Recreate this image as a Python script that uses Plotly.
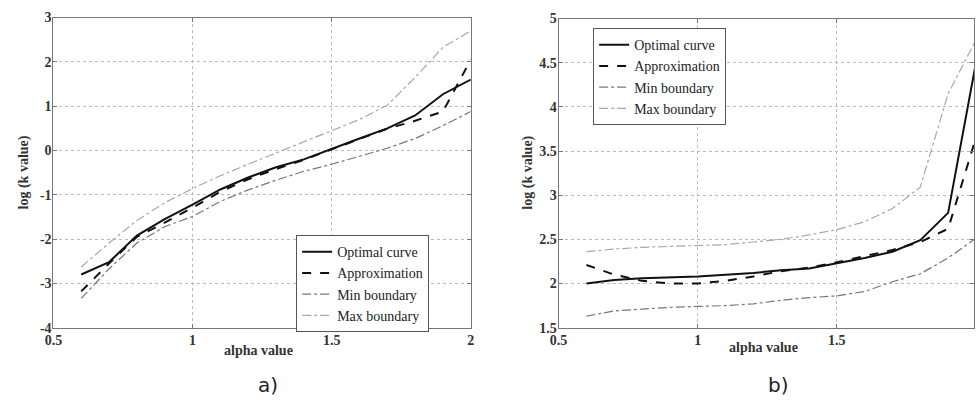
import plotly.graph_objects as go

alpha = [0.6, 0.7, 0.8, 0.9, 1.0, 1.1, 1.2, 1.3, 1.4, 1.5, 1.6, 1.7, 1.8, 1.9, 2.0]

# Panel a)
a_optimal = [-2.80, -2.52, -1.92, -1.55, -1.22, -0.88, -0.61, -0.38, -0.20, 0.04, 0.27, 0.50, 0.79, 1.27, 1.60]
a_approx = [-3.18, -2.55, -1.95, -1.63, -1.29, -0.93, -0.65, -0.42, -0.21, 0.03, 0.26, 0.49, 0.67, 0.88, 2.05]
a_min = [-3.34, -2.67, -2.09, -1.72, -1.49, -1.15, -0.89, -0.67, -0.47, -0.31, -0.13, 0.05, 0.27, 0.56, 0.88]
a_max = [-2.63, -2.09, -1.58, -1.18, -0.86, -0.57, -0.31, -0.06, 0.19, 0.44, 0.70, 1.02, 1.65, 2.33, 2.70]

# Panel b)
b_optimal = [2.00, 2.04, 2.06, 2.07, 2.08, 2.10, 2.12, 2.15, 2.17, 2.23, 2.29, 2.36, 2.49, 2.80, 4.50]
b_approx = [2.21, 2.10, 2.03, 2.00, 2.00, 2.03, 2.08, 2.14, 2.18, 2.24, 2.31, 2.38, 2.47, 2.62, 3.65]
b_min = [1.63, 1.69, 1.71, 1.73, 1.74, 1.75, 1.77, 1.81, 1.84, 1.86, 1.91, 2.02, 2.11, 2.29, 2.51]
b_max = [2.36, 2.39, 2.41, 2.42, 2.43, 2.44, 2.47, 2.50, 2.55, 2.61, 2.70, 2.85, 3.09, 4.15, 4.76]

# Tick labels
x_ticks = [0.5, 1.0, 1.5, 2.0]
x_ticklabels = ["0.5", "1", "1.5", "2"]
a_yticks = [-4, -3, -2, -1, 0, 1, 2, 3]
a_yticklabels = ["-4", "-3", "-2", "-1", "0", "1", "2", "3"]
b_yticks = [1.5, 2, 2.5, 3, 3.5, 4, 4.5, 5]
b_yticklabels = ["1.5", "2", "2.5", "3", "3.5", "4", "4.5", "5"]

names = ["Optimal curve", "Approximation", "Min boundary", "Max boundary"]
styles = [
    dict(color="#111111", width=2, dash="solid"),
    dict(color="#111111", width=2, dash="dash"),
    dict(color="#777777", width=1.2, dash="dashdot"),
    dict(color="#a8a8a8", width=1.2, dash="dashdot"),
]

fig = go.Figure()
for ys, nm, st in zip([a_optimal, a_approx, a_min, a_max], names, styles):
    fig.add_trace(go.Scatter(x=alpha, y=ys, mode="lines", name=nm, line=st,
                             xaxis="x", yaxis="y", legend="legend"))
for ys, nm, st in zip([b_optimal, b_approx, b_min, b_max], names, styles):
    fig.add_trace(go.Scatter(x=alpha, y=ys, mode="lines", name=nm, line=st,
                             xaxis="x2", yaxis="y2", legend="legend2"))

SERIF = "Liberation Serif"
tickfont = dict(family=SERIF, size=14, color="#333333", weight="bold")
axis_common = dict(showline=True, linecolor="#777777", linewidth=1, mirror="allticks",
                   ticks="inside", ticklen=4, tickcolor="#777777",
                   showgrid=True, gridcolor="#bbbbbb", griddash="dot", gridwidth=1,
                   zeroline=False, tickfont=tickfont, tickmode="array")

W, H = 978, 405
legend_font = dict(family=SERIF, size=14, color="#222222")
title_font = dict(family=SERIF, size=14, color="#333333", weight="bold")
fig.update_layout(
    width=W, height=H, margin=dict(l=0, r=0, t=0, b=0),
    paper_bgcolor="white", plot_bgcolor="white",
    xaxis=dict(domain=[45 / W, 468 / W], range=[0.5, 2], anchor="y",
               tickvals=x_ticks, ticktext=x_ticklabels, **axis_common),
    yaxis=dict(domain=[(H - 333) / H, (H - 11) / H], range=[-4, 3], anchor="x",
               tickvals=a_yticks, ticktext=a_yticklabels, ticklabelstandoff=-2, **axis_common),
    xaxis2=dict(domain=[557 / W, 1.0], range=[0.5, 1.993], anchor="y2",
                tickvals=x_ticks, ticktext=x_ticklabels, **axis_common),
    yaxis2=dict(domain=[(H - 333) / H, (H - 12) / H], range=[1.5, 5], anchor="x2",
                tickvals=b_yticks, ticktext=b_yticklabels, ticklabelstandoff=-2, **axis_common),
    legend=dict(x=291 / W, y=(H - 237) / H, xanchor="left", yanchor="top",
                bgcolor="white", bordercolor="#555555", borderwidth=1,
                font=legend_font, tracegroupgap=0, itemwidth=30),
    legend2=dict(x=592 / W, y=(H - 22) / H, xanchor="left", yanchor="top",
                 bgcolor="white", bordercolor="#555555", borderwidth=1,
                 font=legend_font, tracegroupgap=0, itemwidth=30),
    annotations=[
        dict(text="alpha value", x=253 / W, y=(H - 357) / H, xref="paper", yref="paper",
             xanchor="center", yanchor="middle", showarrow=False, font=title_font),
        dict(text="log (k value)", x=15 / W, y=(H - 172) / H, xref="paper", yref="paper",
             xanchor="center", yanchor="middle", showarrow=False, textangle=-90, font=title_font),
        dict(text="alpha value", x=765 / W, y=(H - 354) / H, xref="paper", yref="paper",
             xanchor="center", yanchor="middle", showarrow=False, font=title_font),
        dict(text="log (k value)", x=526 / W, y=(H - 172) / H, xref="paper", yref="paper",
             xanchor="center", yanchor="middle", showarrow=False, textangle=-90, font=title_font),
        dict(text="a)", x=262 / W, y=(H - 393) / H, xref="paper", yref="paper",
             xanchor="center", yanchor="middle", showarrow=False,
             font=dict(family="DejaVu Sans", size=20, color="#222222")),
        dict(text="b)", x=780 / W, y=(H - 393) / H, xref="paper", yref="paper",
             xanchor="center", yanchor="middle", showarrow=False,
             font=dict(family="DejaVu Sans", size=20, color="#222222")),
    ],
)

fig.write_html("out.html")
